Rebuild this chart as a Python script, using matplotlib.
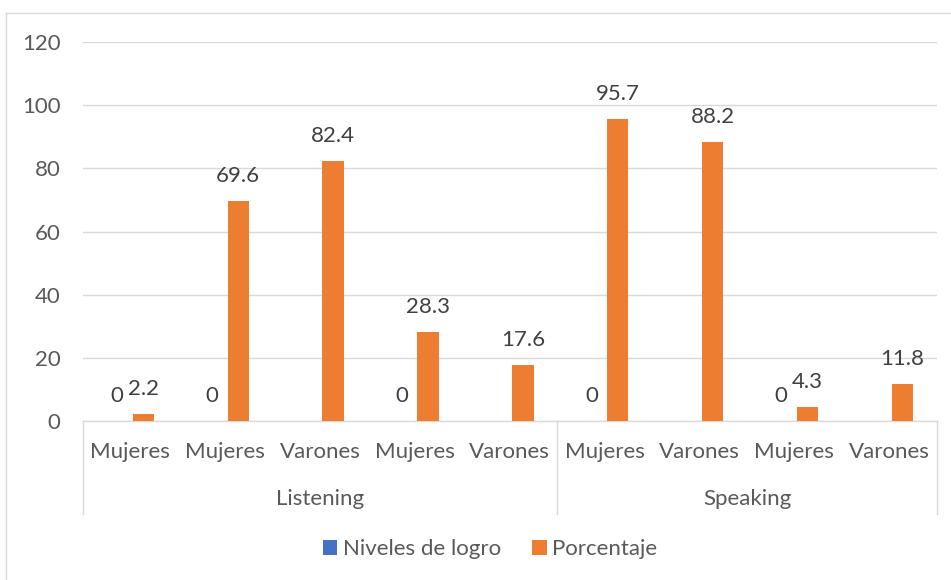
import matplotlib
matplotlib.use("Agg")
import matplotlib.pyplot as plt
import matplotlib.transforms as mtransforms
from matplotlib.patches import Patch
from matplotlib.lines import Line2D
import numpy as np

# ---- data ----
inner_labels = ["Mujeres", "Mujeres", "Varones", "Mujeres", "Varones",
                "Mujeres", "Varones", "Mujeres", "Varones"]
groups = ["Listening", "Speaking"]
group_sizes = [5, 4]
niveles = [0, 0, None, 0, None, 0, None, 0, None]
porcentaje = [2.2, 69.6, 82.4, 28.3, 17.6, 95.7, 88.2, 4.3, 11.8]
yticks = [0, 20, 40, 60, 80, 100, 120]
series_names = ["Niveles de logro", "Porcentaje"]

BLUE = "#4472C4"
ORANGE = "#ED7D31"
GRID = "#D9D9D9"
TICK = "#595959"
LABEL = "#404040"
FONT = "Lato"
FS = 16

plt.rcParams["font.family"] = [FONT, "DejaVu Sans"]

W, H = 951, 580
fig = plt.figure(figsize=(W / 100, H / 100), dpi=100)
ax_l, ax_r, ax_b, ax_t = 82.7, 936.7, 421, 42
ax = fig.add_axes([ax_l / W, 1 - ax_b / H, (ax_r - ax_l) / W, (ax_b - ax_t) / H])

n = len(inner_labels)
x = np.arange(n)
bw = 0.224
off = 0.139

nv_x = [xi - off for xi, v in zip(x, niveles) if v is not None]
nv_v = [v for v in niveles if v is not None]
ax.bar(nv_x, nv_v, width=bw, color=BLUE, zorder=3)
ax.bar(x + off, porcentaje, width=bw, color=ORANGE, zorder=3)

for xi, v in zip(nv_x, nv_v):
    ax.annotate(f"{v:g}", (xi, v), xytext=(0, 18), textcoords="offset points",
                ha="center", va="center", fontsize=FS, color=LABEL)
for xi, v in zip(x + off, porcentaje):
    ax.annotate(f"{v:g}", (xi, v), xytext=(0, 18), textcoords="offset points",
                ha="center", va="center", fontsize=FS, color=LABEL)

ax.set_xlim(-0.5, n - 0.5)
ax.set_ylim(0, 120)
ax.set_yticks(yticks)
ax.set_yticklabels([str(t) for t in yticks], fontsize=FS, color=TICK)
ax.tick_params(axis="y", length=0, pad=16)
ax.set_xticks([])
ax.grid(axis="y", color=GRID, linewidth=1.0, zorder=0)
for s in ["top", "right", "left"]:
    ax.spines[s].set_visible(False)
ax.spines["bottom"].set_color(GRID)
ax.spines["bottom"].set_linewidth(1.0)

trans = mtransforms.blended_transform_factory(ax.transData, ax.transAxes)
axh = ax_b - ax_t
y_inner = -(452 - ax_b) / axh
y_group = -(499 - ax_b) / axh
y_sep = -(514 - ax_b) / axh

for xi, lab in zip(x, inner_labels):
    ax.text(xi, y_inner, lab, transform=trans, ha="center", va="center",
            fontsize=FS, color=TICK)

start = 0
bounds = [-0.5]
for g, sz in zip(groups, group_sizes):
    center = start + (sz - 1) / 2
    ax.text(center, y_group, g, transform=trans, ha="center", va="center",
            fontsize=FS, color=TICK)
    start += sz
    bounds.append(start - 0.5)
for b in bounds:
    ax.add_line(Line2D([b, b], [0, y_sep], transform=trans, color=GRID,
                       linewidth=1.0, clip_on=False))

handles = [Patch(facecolor=BLUE, edgecolor="none"),
           Patch(facecolor=ORANGE, edgecolor="none")]
fig.legend(handles, series_names, loc="center", bbox_to_anchor=(490 / W, 1 - 549 / H),
           ncol=2, frameon=False, fontsize=FS, handlelength=0.65, handleheight=0.65,
           handletextpad=0.25, columnspacing=1.4, labelcolor=TICK)

# chart border (partially visible)
fig.add_artist(Line2D([6 / W, 1.0], [1 - 13 / H, 1 - 13 / H], transform=fig.transFigure,
                      color=GRID, linewidth=1.0))
fig.add_artist(Line2D([6 / W, 6 / W], [0, 1 - 13 / H], transform=fig.transFigure,
                      color=GRID, linewidth=1.0))

fig.savefig("out.png", dpi=100)
